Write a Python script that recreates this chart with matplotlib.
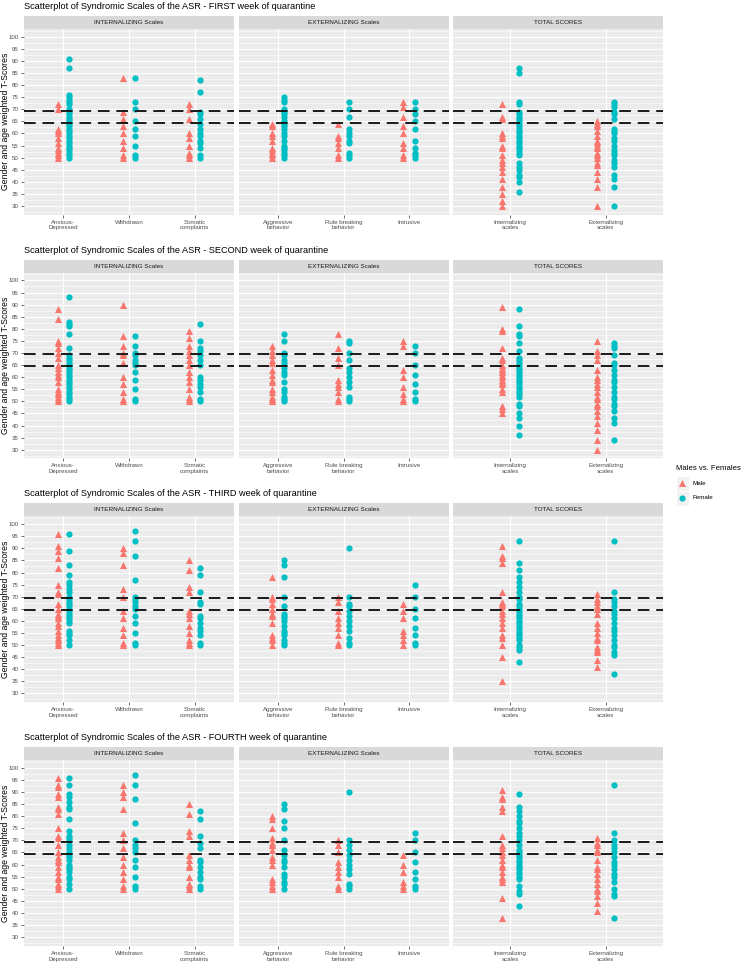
import numpy as np
from matplotlib import pyplot as plt
from matplotlib.patches import Rectangle

plt.rcParams['font.family'] = ['Liberation Sans', 'DejaVu Sans']

weeks = ["FIRST", "SECOND", "THIRD", "FOURTH"]
facets = ["INTERNALIZING Scales", "EXTERNALIZING Scales", "TOTAL SCORES"]
categories = ["Anxious-\nDepressed", "Withdrawn", "Somatic\ncomplaints",
              "Aggressive\nbehavior", "Rule breaking\nbehavior", "Intrusive",
              "Internalizing\nscales", "Externalizing\nscales"]
facet_members = [[0, 1, 2], [3, 4, 5], [6, 7]]
cutoffs = [64.5, 69.5]

# T-scores, one list per scale (same order as categories)
first_male = [
    [72, 70, 62, 61, 60, 58, 56, 54, 53, 52, 51, 50],
    [83, 69, 66, 63, 60, 57, 54, 51, 50],
    [72, 70, 66, 60, 58, 55, 52, 51, 50],
    [64, 63, 60, 59, 57, 54, 53, 52, 51, 50],
    [64, 59, 58, 56, 54, 51, 50],
    [73, 71, 67, 63, 60, 56, 54, 51, 50],
    [72, 67, 66, 60, 59, 58, 55, 54, 51, 49, 48, 46, 44, 41, 38, 35, 32, 30],
    [65, 64, 63, 61, 59, 57, 56, 55, 54, 52, 51, 50, 48, 47, 44, 41, 38, 30],
]
first_female = [
    [91, 87, 76, 75, 74, 73, 72, 70, 69, 68, 67, 66, 65, 64, 63, 62, 61, 60, 59, 58, 57, 56, 55, 54, 53, 52, 51, 50],
    [83, 73, 70, 65, 62, 59, 55, 51, 50],
    [82, 77, 69, 68, 66, 64, 62, 60, 59, 57, 56, 54, 51, 50],
    [75, 74, 73, 70, 69, 68, 67, 65, 64, 63, 62, 60, 59, 57, 55, 54, 53, 52, 51, 50],
    [73, 70, 67, 62, 60, 59, 57, 56, 52, 51, 50],
    [73, 70, 68, 65, 62, 57, 54, 52, 51, 50],
    [87, 85, 73, 72, 69, 68, 67, 66, 65, 64, 63, 62, 61, 60, 59, 58, 57, 56, 55, 54, 53, 52, 51, 48, 46, 45, 43, 42, 40, 36],
    [73, 72, 71, 69, 68, 66, 62, 61, 60, 58, 57, 55, 53, 52, 51, 49, 48, 46, 43, 41, 38, 30],
]
second_male = [
    [88, 84, 75, 74, 72, 70, 68, 65, 64, 62, 61, 60, 58, 55, 54, 53, 52, 51, 50],
    [90, 77, 73, 70, 69, 66, 60, 57, 54, 51, 50],
    [79, 76, 73, 71, 69, 67, 65, 62, 60, 58, 55, 52, 51, 50],
    [73, 71, 69, 67, 66, 63, 61, 59, 58, 55, 54, 52, 51, 50],
    [78, 72, 68, 65, 59, 57, 56, 54, 51, 50],
    [75, 73, 63, 60, 56, 53, 51, 50],
    [89, 80, 79, 72, 68, 67, 65, 64, 63, 62, 61, 60, 59, 58, 57, 55, 54, 48, 47, 45],
    [75, 71, 69, 67, 63, 60, 59, 57, 56, 54, 52, 51, 49, 48, 46, 44, 41, 38, 34, 30],
]
second_female = [
    [93, 83, 82, 81, 78, 72, 69, 68, 67, 66, 65, 64, 63, 62, 61, 60, 59, 58, 57, 56, 55, 54, 53, 52, 51, 50],
    [77, 73, 70, 69, 67, 66, 65, 62, 59, 55, 51, 50],
    [82, 75, 72, 71, 69, 67, 65, 60, 59, 57, 56, 54, 51, 50],
    [78, 75, 70, 69, 67, 66, 64, 62, 61, 58, 55, 54, 52, 51, 50],
    [75, 74, 70, 67, 64, 62, 60, 58, 56, 52, 51, 50],
    [73, 70, 65, 61, 57, 54, 51, 50],
    [88, 81, 78, 77, 74, 71, 68, 67, 66, 65, 64, 63, 62, 61, 60, 59, 58, 57, 56, 55, 54, 53, 52, 49, 48, 45, 43, 40, 36],
    [74, 73, 72, 69, 66, 65, 63, 61, 59, 58, 56, 54, 52, 51, 49, 48, 46, 43, 41, 34],
]
third_male = [
    [96, 91, 89, 86, 82, 75, 72, 71, 67, 65, 63, 62, 61, 59, 58, 56, 54, 53, 52, 51, 50],
    [90, 88, 83, 73, 70, 64, 61, 57, 54, 51, 50],
    [85, 81, 74, 72, 64, 63, 61, 58, 55, 52, 51, 50],
    [78, 70, 69, 67, 65, 63, 62, 59, 54, 53, 52, 50],
    [70, 68, 64, 61, 59, 57, 54, 51, 50],
    [67, 64, 61, 56, 54, 52, 50],
    [91, 87, 86, 84, 72, 68, 67, 66, 64, 63, 61, 59, 57, 54, 53, 50, 45, 35],
    [71, 69, 68, 66, 65, 63, 59, 57, 55, 53, 52, 49, 48, 47, 44, 41],
]
third_female = [
    [96, 89, 83, 79, 76, 75, 73, 72, 70, 69, 68, 67, 66, 65, 64, 63, 62, 61, 60, 59, 56, 55, 54, 52, 50],
    [97, 93, 87, 77, 70, 69, 68, 66, 65, 62, 59, 55, 51, 50],
    [82, 79, 72, 68, 67, 62, 61, 59, 57, 56, 54, 51, 50],
    [85, 83, 78, 70, 66, 63, 62, 61, 60, 58, 56, 55, 54, 52, 51, 50],
    [90, 70, 67, 66, 64, 62, 60, 58, 56, 53, 51, 50],
    [75, 70, 65, 61, 57, 54, 51, 50],
    [93, 84, 81, 78, 76, 74, 72, 70, 69, 67, 66, 65, 64, 63, 62, 61, 60, 59, 58, 57, 56, 55, 54, 53, 52, 50, 49, 48, 43],
    [93, 72, 69, 68, 66, 64, 63, 61, 59, 57, 56, 54, 52, 50, 49, 47, 46, 38],
]
fourth_male = [
    [96, 93, 92, 89, 88, 84, 83, 81, 75, 72, 71, 68, 65, 63, 62, 61, 59, 57, 55, 54, 52, 51, 50],
    [93, 90, 88, 83, 73, 70, 67, 63, 60, 57, 54, 51, 50],
    [85, 81, 74, 72, 64, 62, 60, 59, 55, 52, 51, 50],
    [80, 79, 75, 71, 69, 68, 66, 63, 62, 60, 54, 53, 51, 50],
    [70, 68, 65, 61, 59, 57, 55, 51, 50],
    [64, 60, 57, 53, 51, 50],
    [91, 88, 87, 84, 82, 72, 68, 67, 65, 64, 62, 60, 59, 57, 55, 54, 53, 46, 38],
    [71, 69, 68, 66, 65, 62, 59, 58, 56, 54, 52, 50, 49, 47, 44, 41],
]
fourth_female = [
    [96, 93, 89, 88, 86, 84, 83, 79, 74, 72, 71, 70, 68, 67, 65, 64, 63, 62, 60, 59, 58, 57, 55, 54, 52, 50],
    [97, 93, 87, 77, 70, 68, 67, 65, 62, 59, 55, 51, 50],
    [82, 79, 72, 69, 67, 62, 61, 59, 57, 55, 54, 51, 50],
    [85, 83, 78, 75, 70, 66, 64, 62, 61, 59, 56, 55, 53, 52, 50],
    [90, 70, 68, 66, 64, 62, 60, 58, 56, 52, 51, 50],
    [73, 70, 65, 61, 57, 54, 51, 50],
    [89, 84, 82, 80, 78, 77, 75, 73, 72, 70, 68, 66, 65, 64, 63, 62, 61, 60, 59, 58, 57, 56, 55, 54, 51, 49, 48, 43],
    [93, 73, 70, 68, 67, 65, 63, 61, 60, 58, 56, 55, 53, 50, 48, 47, 38],
]

male_by_week = [first_male, second_male, third_male, fourth_male]
female_by_week = [first_female, second_female, third_female, fourth_female]

MALE_COL = '#F8766D'
FEMALE_COL = '#00BFC4'
W, H = 742, 965

fig = plt.figure(figsize=(W / 100, H / 100), dpi=100)


def px_axes(x0, top, w, h):
    return fig.add_axes([x0 / W, 1 - (top + h) / H, w / W, h / H])


panel_x = [24, 238.5, 453]
panel_w = 210
strip_h = 13
panel_h = 185.5

for r, week in enumerate(weeks):
    top = 16 + 243.7 * r
    fig.text(24 / W, 1 - (top - 9.5) / H,
             "Scatterplot of Syndromic Scales of the ASR - %s week of quarantine" % week,
             fontsize=6.6, va='center', ha='left', color='black')
    fig.text(5.5 / W, 1 - (top + strip_h + panel_h / 2) / H,
             "Gender and age weighted T-Scores", rotation=90,
             fontsize=6.2, va='center', ha='center', color='black')

    for f, members in enumerate(facet_members):
        # strip
        sax = px_axes(panel_x[f], top, panel_w, strip_h)
        sax.set_facecolor('#D9D9D9')
        sax.set_xticks([])
        sax.set_yticks([])
        for s in sax.spines.values():
            s.set_visible(False)
        sax.text(0.5, 0.5, facets[f], ha='center', va='center',
                 fontsize=4.6, color='#1A1A1A', transform=sax.transAxes)

        ax = px_axes(panel_x[f], top + strip_h, panel_w, panel_h)
        ax.set_facecolor('#EBEBEB')
        for s in ax.spines.values():
            s.set_visible(False)
        n = len(members)
        pos = np.arange(1, n + 1)
        ax.set_xlim(0.4, n + 0.6)
        ax.set_ylim(26.5, 103.2)
        ax.set_yticks(np.arange(30, 101, 5))
        ax.set_yticks(np.arange(27.5, 103, 5), minor=True)
        ax.set_xticks(pos)
        ax.set_xticklabels([categories[c] for c in members])
        ax.grid(which='major', color='white', lw=0.8)
        ax.grid(which='minor', axis='y', color='white', lw=0.4)
        ax.set_axisbelow(True)
        ax.tick_params(which='major', length=2.2, width=0.5, color='#333333',
                       labelsize=4.4, labelcolor='#4D4D4D', pad=1.5)
        ax.tick_params(which='minor', length=0)
        if f > 0:
            ax.tick_params(axis='y', length=0, labelleft=False)

        for i, c in enumerate(members):
            m = male_by_week[r][c]
            fe = female_by_week[r][c]
            hm = ax.scatter(np.full(len(m), pos[i] - 0.087), m, marker='^', s=26,
                            color=MALE_COL, linewidths=0, label='Male', zorder=3)
            hf = ax.scatter(np.full(len(fe), pos[i] + 0.087), fe, marker='o', s=20,
                            color=FEMALE_COL, linewidths=0, label='Female', zorder=3)

        for yc in cutoffs:
            ax.axhline(yc, color='#1A1A1A', lw=1.4, ls=(0, (6, 3.5)), zorder=4)

        if r == 1 and f == 2:
            legend_handles = [hm, hf]

# grey key backgrounds of the legend
for ky in (476.5, 491.5):
    fig.patches.append(Rectangle((677 / W, 1 - (ky + 14) / H), 12 / W, 14 / H,
                                 transform=fig.transFigure, facecolor='#F2F2F2',
                                 edgecolor='none', zorder=0))

fig.legend(legend_handles, ['Male', 'Female'], title='Males vs. Females',
           loc='upper left', bbox_to_anchor=(673 / W, 1 - 462 / H),
           frameon=False, fontsize=4.5, title_fontsize=5.6,
           alignment='left', handletextpad=0.7, labelspacing=1.45,
           borderaxespad=0, handlelength=2.0)

fig.savefig('out.png', dpi=100)
